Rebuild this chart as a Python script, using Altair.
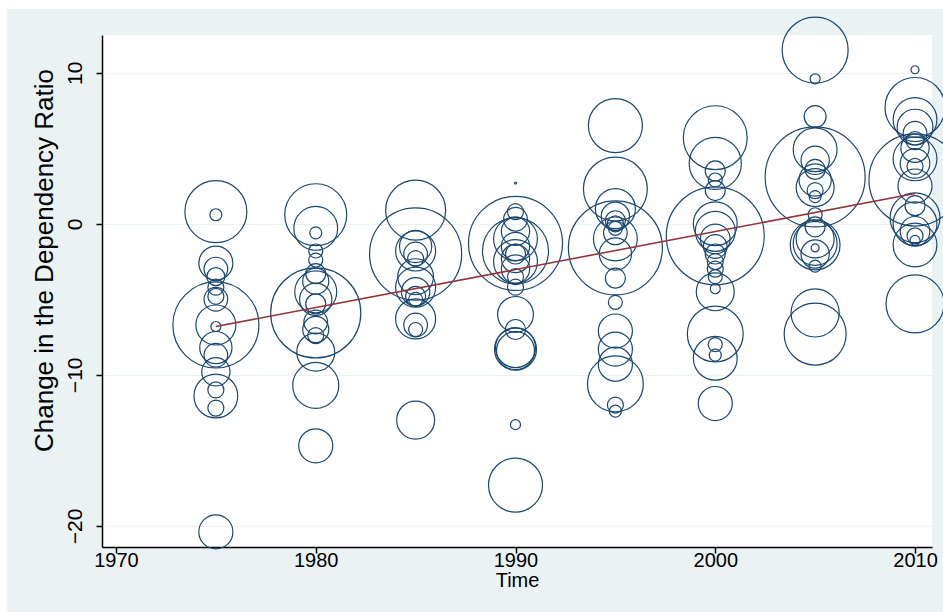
import altair as alt
import pandas as pd

# Change in the dependency ratio (y) and bubble weight for each survey year
chg_1975 = [0.8, 0.6, -2.6, -3.0, -3.5, -4.2, -4.8, -5.0, -6.7, -6.7, -6.8, -8.2, -8.7, -9.8, -11.4, -11.0, -12.2, -20.4]
wt_1975 = [96, 3.6, 29, 14, 8.1, 6.4, 6.4, 14, 185, 40, 2.5, 26, 14, 20, 48, 6.4, 6.4, 29]

chg_1980 = [0.6, -0.3, -0.6, -1.8, -2.4, -3.3, -3.8, -4.5, -5.0, -5.3, -5.9, -6.5, -7.0, -7.4, -8.5, -10.7, -14.7]
wt_1980 = [96, 48, 3.6, 4.9, 4.9, 10, 17, 44, 26, 10, 203, 14, 17, 6.4, 36, 53, 29]

chg_1985 = [0.9, -2.0, -1.5, -1.8, -2.0, -2.3, -3.5, -4.2, -4.5, -4.8, -5.0, -6.3, -6.7, -7.0, -13.0]
wt_1985 = [90, 212, 26, 40, 14, 6.4, 32, 40, 20, 10, 4.9, 40, 14, 4.9, 36]

chg_1990 = [2.7, 0.8, 0.3, -1.3, -1.8, -1.0, -2.5, -0.5, -1.5, -2.0, -2.3, -3.0, -3.5, -4.2, -6.0, -7.0, -8.2, -8.3, -8.4, -13.3, -17.3]
wt_1990 = [0.1, 6.4, 14, 221, 109, 48, 48, 20, 20, 10, 20, 20, 6.4, 6.4, 32, 10, 40, 44, 36, 2.5, 73]

chg_1995 = [6.5, 2.3, 1.0, 0.5, 0.2, 0.0, -0.3, -0.6, -1.6, -1.0, -2.0, -3.6, -5.2, -7.1, -8.3, -9.3, -10.6, -12.0, -12.4]
wt_1995 = [73, 102, 40, 20, 10, 6.4, 4.9, 14, 221, 48, 26, 10, 4.9, 29, 29, 29, 78, 6.4, 3.6]

chg_2000 = [5.7, 4.0, 3.5, 2.9, 2.2, 0.0, -0.8, -0.5, -1.0, -1.5, -2.0, -2.5, -3.0, -3.5, -4.3, -4.5, -7.3, -8.0, -8.7, -8.9, -11.9]
wt_2000 = [102, 68, 10, 4.9, 10, 48, 240, 40, 22, 14, 10, 6.4, 6.4, 4.9, 2.5, 36, 78, 4.9, 3.6, 48, 29]

chg_2005 = [11.5, 9.6, 7.1, 4.9, 4.2, 3.6, 3.1, 2.9, 2.4, 2.2, 1.8, 0.6, -0.2, -1.0, -1.3, -1.4, -1.6, -2.0, -2.8, -5.9, -7.3]
wt_2005 = [109, 2.5, 12, 48, 20, 10, 250, 26, 36, 6.4, 3.6, 4.9, 10, 36, 48, 62, 1.6, 20, 3.6, 58, 96]

chg_2010 = [10.2, 7.7, 6.9, 6.4, 6.0, 5.5, 5.0, 4.3, 4.0, 3.8, 2.9, 2.5, 1.2, 0.4, 0.0, -0.5, -0.8, -1.1, -1.4, -5.3]
wt_2010 = [1.6, 90, 48, 32, 14, 8.1, 20, 48, 22, 6.4, 212, 29, 10, 62, 48, 22, 6.4, 2.5, 48, 84]

# Fitted values
fit_years = [1975, 2010]
fit_values = [-6.8, 2.0]

x_ticks = [1970, 1980, 1990, 2000, 2010]
y_ticks = [-20, -10, 0, 10]

series = {
    1975: (chg_1975, wt_1975), 1980: (chg_1980, wt_1980), 1985: (chg_1985, wt_1985),
    1990: (chg_1990, wt_1990), 1995: (chg_1995, wt_1995), 2000: (chg_2000, wt_2000),
    2005: (chg_2005, wt_2005), 2010: (chg_2010, wt_2010),
}
rows = []
for yr, (cs, ws) in series.items():
    for c, w in zip(cs, ws):
        rows.append({"Time": yr, "Change": c, "Weight": w})
df = pd.DataFrame(rows).sort_values("Weight", ascending=False)
fit_df = pd.DataFrame({"Time": fit_years, "Fitted": fit_values})

W, H = 830, 512
NAVY = "#1a476f"
BG = "#eaf2f3"
REG = "Liberation Sans, Arial, sans-serif"

xscale = alt.Scale(domain=[1969.3, 2010.85], nice=False, zero=False)
yscale = alt.Scale(domain=[-21.4, 12.5], nice=False, zero=False)

xaxis = alt.Axis(values=x_ticks, format="d", grid=False, title="Time",
                 labelFont=REG, labelFontSize=20, titleFont=REG, titleFontSize=20,
                 titleY=33, titleBaseline="middle", labelPadding=-3,
                 labelBaseline="top")
yaxis = alt.Axis(values=y_ticks, grid=True, gridColor=BG, gridWidth=1.2,
                 title="Change in the Dependency Ratio",
                 labelFont=REG, labelFontSize=21, titleFont=REG, titleFontSize=26,
                 labelAngle=270, labelAlign="center", labelBaseline="middle", labelPadding=21,
                 titleAngle=270, titleX=-58, titleY=225, titleAlign="center",
                 titleBaseline="middle")

bubbles = alt.Chart(df).mark_point(
    shape="circle", filled=False, color=NAVY, strokeWidth=1.2, opacity=1, clip=False
).encode(
    x=alt.X("Time:Q", scale=xscale, axis=xaxis),
    y=alt.Y("Change:Q", scale=yscale, axis=yaxis),
    size=alt.Size("Weight:Q", scale=alt.Scale(domain=[0, 250], range=[0, 10000], zero=True), legend=None),
)

fit = alt.Chart(fit_df).mark_line(color="#90353b", strokeWidth=1.6).encode(
    x=alt.X("Time:Q", scale=xscale),
    y=alt.Y("Fitted:Q", scale=yscale),
)

strip_top = alt.Chart(pd.DataFrame({"a": [0]})).mark_rect(color="white").encode(
    x=alt.value(-102), x2=alt.value(W + 11), y=alt.value(-35), y2=alt.value(-26))
strip_left = alt.Chart(pd.DataFrame({"a": [0]})).mark_rect(color="white").encode(
    x=alt.value(-102), x2=alt.value(-95), y=alt.value(-35), y2=alt.value(H + 65))

chart = alt.layer(bubbles, fit, strip_top, strip_left).properties(
    width=W, height=H,
    autosize=alt.AutoSizeParams(type="none"),
    padding={"left": 102, "top": 35, "right": 11, "bottom": 65},
    background=BG,
).configure_view(
    fill="white", stroke=None
).configure_axis(
    domainColor="black", domainWidth=1.5, tickColor="black", tickWidth=1.5, tickSize=6,
    labelColor="black", titleFontWeight="normal", titleColor="black",
)

chart.save("out.html", embed_options={"renderer": "svg", "actions": False})
